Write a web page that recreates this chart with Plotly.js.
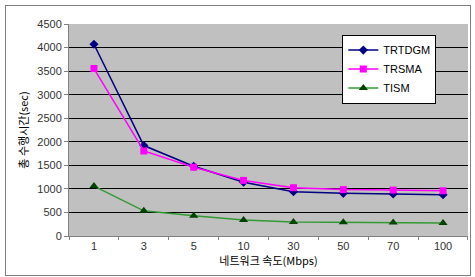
<!DOCTYPE html>
<html><head><meta charset="utf-8">
<script src="https://cdn.plot.ly/plotly-3.0.1.min.js"></script>
<style>
html,body{margin:0;padding:0;background:#fff;}
#wrap{position:relative;width:475px;height:277px;}
#chart{width:475px;height:277px;}
#frame{position:absolute;left:5px;top:5px;width:464px;height:269px;border:1px solid #808080;pointer-events:none;}
</style></head>
<body>
<div id="wrap"><div id="chart"></div><div id="frame"></div></div>
<script>
const categories = ['1','3','5','10','30','50','70','100'];
const trtdgm = [4070, 1920, 1480, 1140, 940, 905, 890, 875];
const trsma  = [3555, 1805, 1460, 1180, 1025, 985, 975, 960];
const tism   = [1060, 535, 430, 340, 295, 290, 285, 275];
const yTicks = [0,500,1000,1500,2000,2500,3000,3500,4000,4500];

const traces = [
  {name:'TRTDGM', x:categories, y:trtdgm, type:'scatter', mode:'lines+markers',
   line:{color:'#000080', width:1.5}, marker:{symbol:'diamond', size:7, color:'#000080'}},
  {name:'TRSMA', x:categories, y:trsma, type:'scatter', mode:'lines+markers',
   line:{color:'#FF00FF', width:1.5}, marker:{symbol:'square', size:7, color:'#FF00FF'}},
  {name:'TISM', x:categories, y:tism, type:'scatter', mode:'lines+markers',
   line:{color:'#339933', width:1.5}, marker:{symbol:'triangle-up', size:8, color:'#004000'}}
];

const layout = {
  width:475, height:277,
  margin:{l:69, r:7, t:24, b:41},
  paper_bgcolor:'rgba(0,0,0,0)',
  plot_bgcolor:'#C0C0C0',
  font:{family:'Liberation Sans, Arial, sans-serif', size:11, color:'#000'},
  showlegend:true,
  legend:{x:0.685, y:0.95, xanchor:'left', yanchor:'top', bgcolor:'#fff',
    bordercolor:'#000', borderwidth:1, font:{size:11}, tracegroupgap:0, itemwidth:30},
  xaxis:{type:'category', tickvals:categories, ticktext:categories,
    showgrid:false, showline:true, linecolor:'#808080', linewidth:1,
    ticks:'outside', ticklen:3, tickcolor:'#808080', tickson:'boundaries',
    tickfont:{size:11, color:'#333'},
    title:{text:'네트워크 속도(Mbps)', font:{family:'Noto Sans CJK KR, sans-serif', size:11}, standoff:0},
    mirror:false},
  yaxis:{range:[0,4500], tickvals:yTicks, ticktext:yTicks.map(String),
    showgrid:true, gridcolor:'#000', gridwidth:1, zeroline:false,
    showline:true, linecolor:'#808080', linewidth:1,
    ticks:'outside', ticklen:4, tickcolor:'#808080',
    tickfont:{size:11, color:'#333'},
    title:{text:'총 수행시간(sec)', font:{family:'Noto Sans CJK KR, sans-serif', size:11}, standoff:6}}
};

Plotly.newPlot('chart', traces, layout, {displayModeBar:false, staticPlot:true});
</script>
</body></html>
